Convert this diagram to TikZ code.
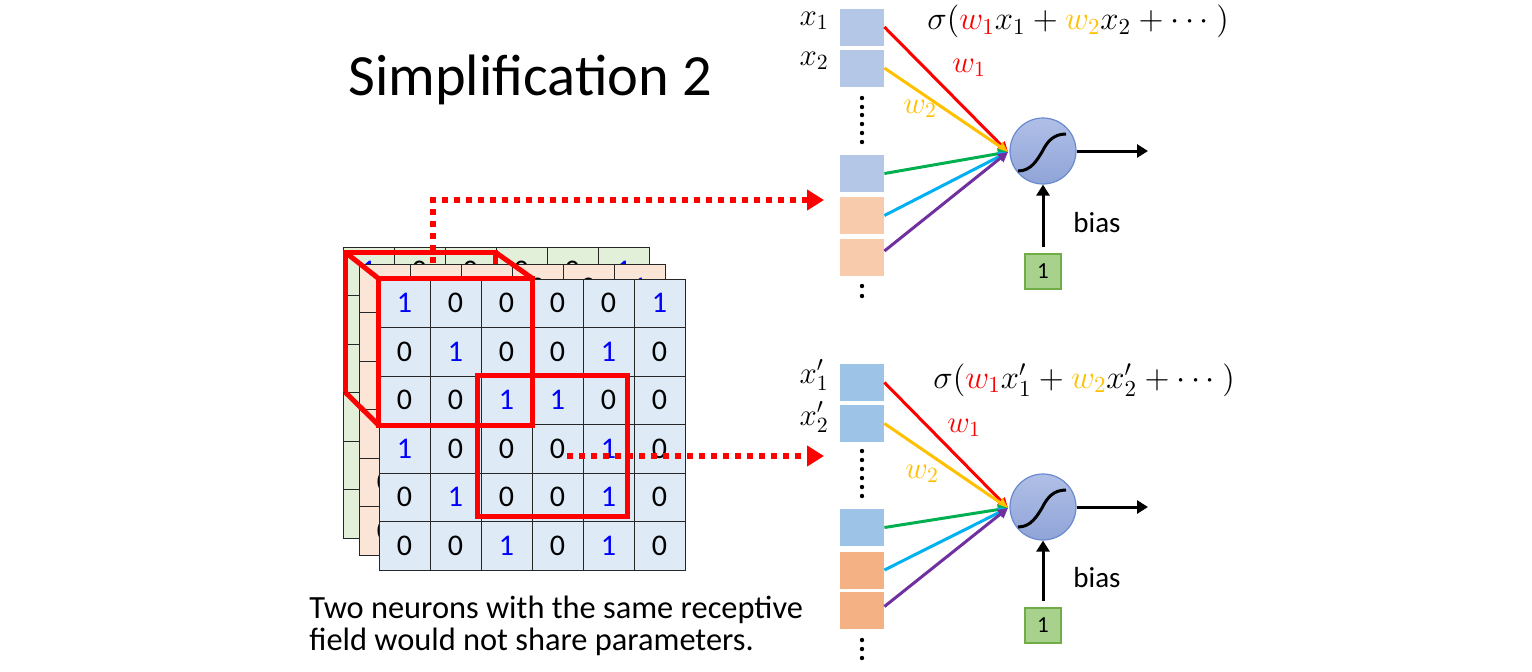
\documentclass[tikz,border=0pt]{standalone}
\usepackage{fix-cm}
\usepackage{fontspec}
\setmainfont{Carlito}
\usetikzlibrary{arrows.meta}
\definecolor{gridblue}{HTML}{DEEBF7}
\definecolor{gridpeach}{HTML}{FBE5D6}
\definecolor{gridgreen}{HTML}{E2F0D9}
\definecolor{digitblue}{HTML}{0000FF}
\definecolor{wred}{HTML}{FF0000}
\definecolor{wyellow}{HTML}{FFC000}
\definecolor{wgreen}{HTML}{00B050}
\definecolor{wcyan}{HTML}{00B0F0}
\definecolor{wpurple}{HTML}{7030A0}
\definecolor{inblueA}{HTML}{B4C7E7}
\definecolor{inpeachA}{HTML}{F8CBAD}
\definecolor{inblueB}{HTML}{9DC3E6}
\definecolor{inpeachB}{HTML}{F4B183}
\definecolor{neutop}{HTML}{B0BFE6}
\definecolor{neubot}{HTML}{8FA4D8}
\definecolor{neuline}{HTML}{6A8AD0}
\definecolor{onefill}{HTML}{A9D18E}
\definecolor{oneline}{HTML}{70AD47}
\newcommand{\gridlayer}[4]{%
  \foreach \row [count=\i from 0] in {{1,0,0,0,0,1},{0,1,0,0,1,0},{0,0,1,1,0,0},{1,0,0,0,1,0},{0,1,0,0,1,0},{0,0,1,0,1,0}}{%
    \foreach \d [count=\j from 0] in \row {%
      \node[cell, fill=#4] (#1-\i-\j) at ({#2+51*\j+25.5},{#3+48.5*\i+24.25}) {\ifnum\d=1 \color{digitblue}\fi\d};
    }
  }
}
\begin{document}
\begin{tikzpicture}[x=0.5pt,y=-0.5pt,
  cell/.style={rectangle, draw=black!85, line width=0.5pt, minimum width=25.5pt, minimum height=24.25pt, inner sep=0pt, font=\fontsize{15}{16}\selectfont},
  redbox/.style={draw=red, line width=2.5pt, line join=miter},
  reddot/.style={draw=red, line width=3pt, dash pattern=on 3pt off 3pt, -{Triangle[length=8.5pt,width=10pt]}},
  inbox/.style={rectangle, minimum width=22pt, minimum height=18.5pt, inner sep=0pt},
  neuron/.style={circle, minimum size=33pt, inner sep=0pt, draw=neuline, line width=0.6pt, top color=neutop, bottom color=neubot},
  onebox/.style={rectangle, draw=oneline, fill=onefill, line width=0.6pt, minimum width=18pt, minimum height=17.5pt, inner sep=0pt, font=\fontsize{11.5}{12}\selectfont},
  inarrow/.style={line width=1.5pt, -{Triangle[length=5pt,width=5pt]}},
  blackarrow/.style={line width=1.5pt, -{Triangle[length=5.5pt,width=6.5pt]}},
  mathlbl/.style={font=\fontsize{15.5}{17}\selectfont, inner sep=0pt},
  formula/.style={font=\fontsize{16.4}{18}\selectfont, inner sep=0pt},
  txt/.style={inner sep=0pt}
]
\useasboundingbox (0,0) rectangle (1532,671);

% title
\node[txt, anchor=base west, font=\fontsize{29.2}{30}\selectfont] (title) at (348,95) {Simplification 2};

% stacked grids
\gridlayer{g}{343}{247}{gridgreen}
\draw[redbox] (345,392) -- (345,252) -- (495,252) -- (495,392);
\gridlayer{p}{359}{264}{gridpeach}
\gridlayer{f}{379}{279}{gridblue}
\coordinate (bbtl) at (345,252);
\coordinate (bbtr) at (495,252);
\coordinate (bbbl) at (345,392);
\draw[redbox] (bbtl) -- (f-0-0.north west);
\draw[redbox] (bbtr) -- (f-0-2.north east);
\draw[redbox] (bbbl) -- (f-2-0.south west);
\draw[redbox] (f-0-0.north west) rectangle (f-2-2.south east);
\draw[redbox] (477,375) rectangle (627,516);

% dotted connectors
\coordinate (d1s) at (433,263);
\coordinate (d1e) at (824,200);
\coordinate (d2s) at (567,456);
\coordinate (d2e) at (824,456);
\draw[reddot] (d1s) |- (d1e);
\draw[reddot] (d2s) -- (d2e);

% bottom text
\node[txt, anchor=base west, font=\fontsize{16.2}{17}\selectfont] (cap1) at (309,618) {Two neurons with the same receptive};
\node[txt, anchor=base west, font=\fontsize{16.2}{17}\selectfont] (cap2) at (309,650) {field would not share parameters.};

% ---------- neuron 1 ----------
\node[inbox, fill=inblueA] (a1) at (862,27) {};
\node[inbox, fill=inblueA] (a2) at (862,68) {};
\node[inbox, fill=inblueA] (a3) at (862,173.5) {};
\node[inbox, fill=inpeachA] (a4) at (862,215.5) {};
\node[inbox, fill=inpeachA] (a5) at (862,257) {};
\foreach \yy in {98,107,115,124,133,142} \fill (862,\yy) circle[radius=1.1pt];
\foreach \yy in {286,296} \fill (862,\yy) circle[radius=1.1pt];
\node[neuron] (n1) at (1043,151) {};
\coordinate (t1) at (1008,152);
\draw[inarrow, wred] (a1.east) -- (t1);
\draw[inarrow, wyellow] (a2.east) -- (t1);
\draw[inarrow, wgreen] (a3.east) -- (t1);
\draw[inarrow, wcyan] (a4.east) -- (t1);
\draw[inarrow, wpurple] ([yshift=3pt]a5.east) -- (t1);
\begin{scope}[shift={(n1.center)}]
\draw[line width=1.5pt] (-25,20) .. controls (-12,20) and (-6,9) .. (-1,1) .. controls (4,-9) and (10,-17) .. (23,-17);
\end{scope}
\coordinate (o1) at (1148,151);
\draw[blackarrow] (n1.east) -- (o1);
\node[onebox] (one1) at (1043,271.5) {1};
\draw[blackarrow, shorten <=3pt] (one1) -- (n1);
\node[txt, anchor=base west, font=\fontsize{14.5}{16}\selectfont] (bias1) at (1073,232) {bias};
\node[mathlbl, anchor=base east] (x1) at (829,25) {$x_1$};
\node[mathlbl, anchor=base east] (x2) at (829,65) {$x_2$};
\node[mathlbl, anchor=base west, text=wred] (w1a) at (952,72) {$w_1$};
\node[mathlbl, anchor=base west, text=wyellow] (w2a) at (903,113) {$w_2$};
\node[formula, anchor=base west] (f1) at (927,29.5) {$\sigma(\textcolor{wred}{w_1}x_1+\textcolor{wyellow}{w_2}x_2+\cdots\ )$};

% ---------- neuron 2 ----------
\node[inbox, fill=inblueB] (b1) at (862,382.5) {};
\node[inbox, fill=inblueB] (b2) at (862,423.5) {};
\node[inbox, fill=inblueB] (b3) at (862,527.5) {};
\node[inbox, fill=inpeachB] (b4) at (862,570) {};
\node[inbox, fill=inpeachB] (b5) at (862,610.5) {};
\foreach \yy in {451,460,469,478,487,496} \fill (862,\yy) circle[radius=1.1pt];
\foreach \yy in {640,649,658} \fill (862,\yy) circle[radius=1.1pt];
\node[neuron] (n2) at (1043,507) {};
\coordinate (t2) at (1008,508);
\draw[inarrow, wred] (b1.east) -- (t2);
\draw[inarrow, wyellow] (b2.east) -- (t2);
\draw[inarrow, wgreen] (b3.east) -- (t2);
\draw[inarrow, wcyan] (b4.east) -- (t2);
\draw[inarrow, wpurple] ([yshift=2pt]b5.east) -- (t2);
\begin{scope}[shift={(n2.center)}]
\draw[line width=1.5pt] (-25,20) .. controls (-12,20) and (-6,9) .. (-1,1) .. controls (4,-9) and (10,-17) .. (23,-17);
\end{scope}
\coordinate (o2) at (1148,507);
\draw[blackarrow] (n2.east) -- (o2);
\node[onebox] (one2) at (1043,625.5) {1};
\draw[blackarrow, shorten <=3pt] (one2) -- (n2);
\node[txt, anchor=base west, font=\fontsize{14.5}{16}\selectfont] (bias2) at (1073,587) {bias};
\node[mathlbl, anchor=base east] (x1p) at (829,383) {$x_1'$};
\node[mathlbl, anchor=base east] (x2p) at (829,425) {$x_2'$};
\node[mathlbl, anchor=base west, text=wred] (w1b) at (947,432) {$w_1$};
\node[mathlbl, anchor=base west, text=wyellow] (w2b) at (905,478) {$w_2$};
\node[formula, anchor=base west] (f2) at (933,388) {$\sigma(\textcolor{wred}{w_1}x_1'+\textcolor{wyellow}{w_2}x_2'+\cdots\ )$};
\end{tikzpicture}
\end{document}
